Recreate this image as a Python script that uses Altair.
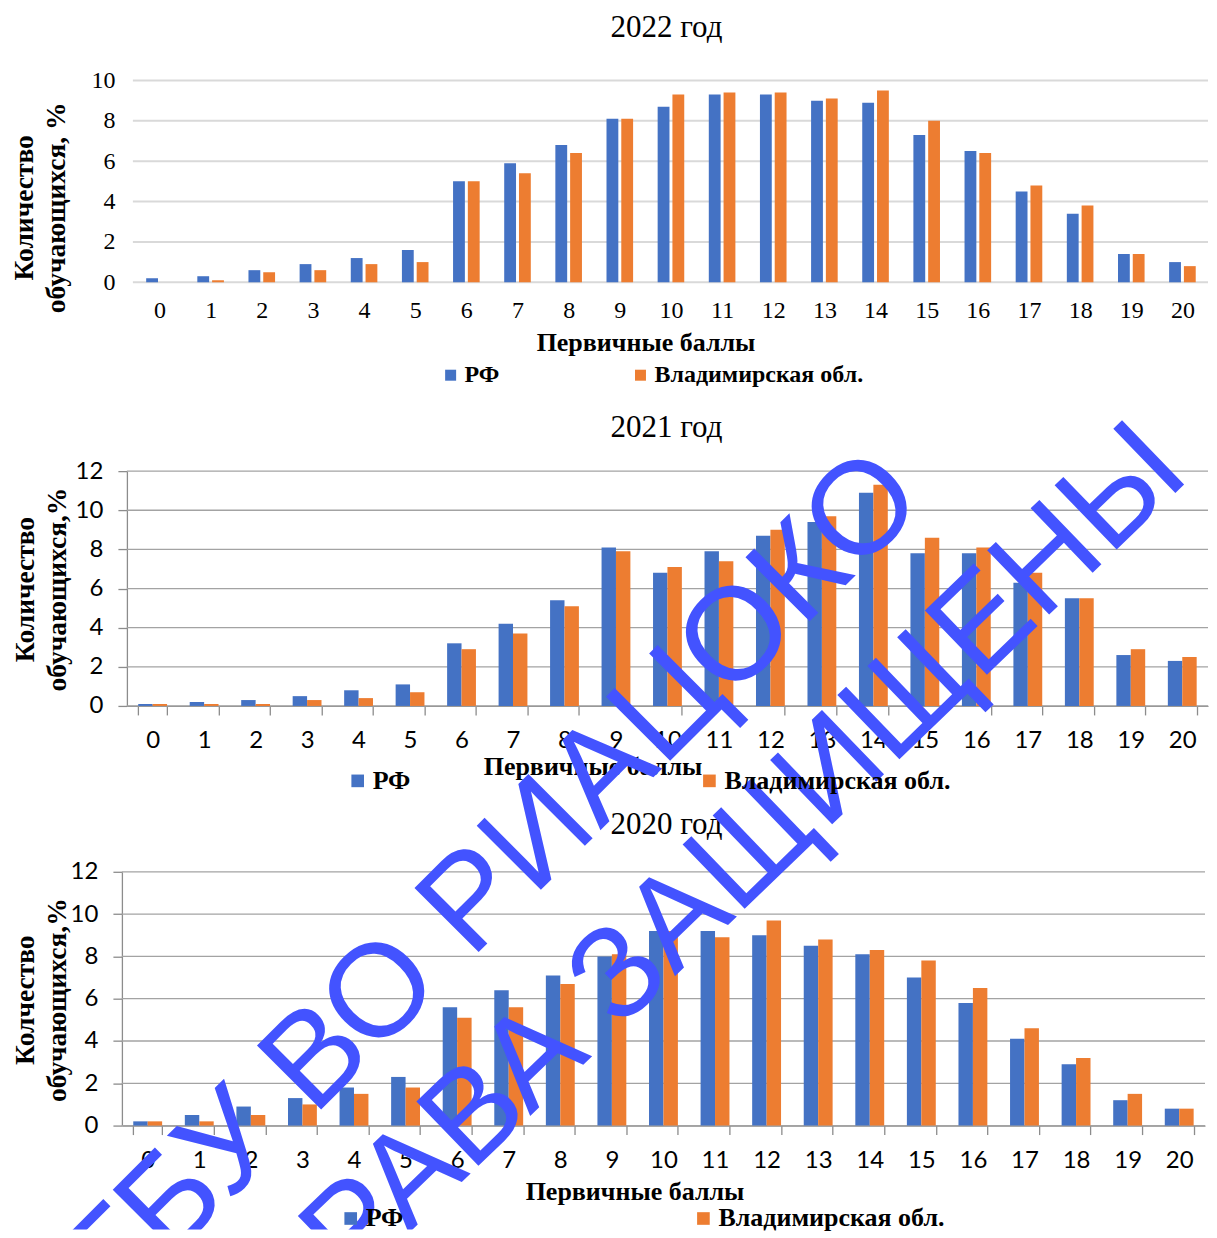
import altair as alt
import pandas as pd

scores = list(range(21))
series = ["РФ", "Владимирская обл."]
colors = ["#4472C4", "#ED7D31"]

rf_2022 = [0.2, 0.3, 0.6, 0.9, 1.2, 1.6, 5.0, 5.9, 6.8, 8.1, 8.7, 9.3, 9.3, 9.0, 8.9, 7.3, 6.5, 4.5, 3.4, 1.4, 1.0]
vl_2022 = [0.0, 0.1, 0.5, 0.6, 0.9, 1.0, 5.0, 5.4, 6.4, 8.1, 9.3, 9.4, 9.4, 9.1, 9.5, 8.0, 6.4, 4.8, 3.8, 1.4, 0.8]
rf_2021 = [0.1, 0.2, 0.3, 0.5, 0.8, 1.1, 3.2, 4.2, 5.4, 8.1, 6.8, 7.9, 8.7, 9.4, 10.9, 7.8, 7.8, 6.3, 5.5, 2.6, 2.3]
vl_2021 = [0.1, 0.1, 0.1, 0.3, 0.4, 0.7, 2.9, 3.7, 5.1, 7.9, 7.1, 7.4, 9.0, 9.7, 11.3, 8.6, 8.1, 6.8, 5.5, 2.9, 2.5]
rf_2020 = [0.2, 0.5, 0.9, 1.3, 1.8, 2.3, 5.6, 6.4, 7.1, 8.0, 9.2, 9.2, 9.0, 8.5, 8.1, 7.0, 5.8, 4.1, 2.9, 1.2, 0.8]
vl_2020 = [0.2, 0.2, 0.5, 1.0, 1.5, 1.8, 5.1, 5.6, 6.7, 8.1, 9.2, 8.9, 9.7, 8.8, 8.3, 7.8, 6.5, 4.6, 3.2, 1.5, 0.8]

years = ["2022 год", "2021 год", "2020 год"]
y_titles = [["Количество", "обучающихся, %"],
            ["Количество", "обучающихся,%"],
            ["Колчество", "обучающихся,%"]]
x_title = "Первичные баллы"
watermark = ["ФГБУ ВО РИАЦОКО", "ПРАВА ЗАЩИЩЕНЫ"]
y_ticks_2022 = [0, 2, 4, 6, 8, 10]
y_ticks_2021 = [0, 2, 4, 6, 8, 10, 12]
y_ticks_2020 = [0, 2, 4, 6, 8, 10, 12]

SERIF = "Liberation Serif"
SANS = "Lato"
W, H = 1201, 1222


def frame(rf, vl):
    return pd.DataFrame({
        "score": scores + scores,
        "series": [series[0]] * len(scores) + [series[1]] * len(scores),
        "value": rf + vl,
    })


def panel(rf, vl, ticks, idx, cfg):
    modern = cfg["modern"]
    lfont = SANS if modern else SERIF
    yscale = alt.Scale(domain=[0, ticks[-1]], range=cfg["yrange"], nice=False, zero=True)
    y_axis = alt.Axis(
        orient="left", offset=cfg["yoff"], values=ticks,
        labelFont=lfont, labelFontSize=24, labelColor="#000", labelPadding=cfg["ylabpad"],
        ticks=modern, tickSize=9 if modern else 0, tickColor="#8c8c8c", tickWidth=1.3,
        domain=modern, domainColor="#8c8c8c", domainWidth=1.3, grid=False,
        title=y_titles[idx], titleFont=SERIF, titleFontSize=27.5, titleFontWeight="bold",
        titleColor="#000", titleLineHeight=32, titleAngle=270,
        titleX=cfg["ytitle"][0], titleY=cfg["ytitle"][1],
        titleAlign="center", titleBaseline="middle",
    )
    x_axis = alt.Axis(
        orient="bottom", offset=cfg["xoff"], labelAngle=0,
        labelFont=lfont, labelFontSize=24, labelColor="#000", labelPadding=cfg["xlabpad"],
        ticks=modern, tickSize=9 if modern else 0, tickColor="#8c8c8c", tickWidth=1.3,
        tickBand="extent", domain=modern, domainColor="#8c8c8c", domainWidth=1.3,
        grid=False,
        title=x_title, titleFont=SERIF, titleFontSize=26, titleFontWeight="bold",
        titleColor="#000", titleX=cfg["xtitle"][0], titleY=cfg["xtitle"][1],
        titleAlign="center", titleBaseline="middle", titleAnchor="start",
    )
    grid = alt.Chart(pd.DataFrame({"value": ticks})).mark_rule(
        color="#a3a3a3" if modern else "#d9d9d9", strokeWidth=1.3 if modern else 2
    ).encode(
        y=alt.Y("value:Q", scale=yscale, axis=y_axis),
        x=alt.value(cfg["grid"][0]), x2=alt.value(cfg["grid"][1]),
    )
    bars = alt.Chart(frame(rf, vl)).mark_bar().encode(
        x=alt.X("score:O", axis=x_axis,
                scale=alt.Scale(range=cfg["xrange"],
                                paddingInner=0.44 if modern else 0.48,
                                paddingOuter=0.22 if modern else 0.24)),
        xOffset=alt.XOffset("series:N", sort=series,
                            scale=alt.Scale(paddingInner=0.0 if modern else 0.2,
                                            paddingOuter=0)),
        y=alt.Y("value:Q", scale=yscale, axis=y_axis),
        color=alt.Color(
            "series:N", sort=series,
            scale=alt.Scale(domain=series, range=colors),
            legend=alt.Legend(
                orient="none", legendX=cfg["legend"][0], legendY=cfg["legend"][1],
                direction="horizontal", title=None, symbolType="square",
                symbolSize=cfg["legend"][3], symbolStrokeWidth=0,
                labelFont=SERIF, labelFontSize=cfg["legend"][4], labelFontWeight="bold",
                labelColor="#000", labelOffset=2, labelLimit=600,
                columnPadding=cfg["legend"][2], padding=0,
            ),
        ),
    )
    title = alt.Chart(pd.DataFrame({"t": [years[idx]]})).mark_text(
        font=SERIF, fontSize=31, color="#000", align="center", baseline="middle"
    ).encode(text="t:N", x=alt.value(cfg["title"][0]), y=alt.value(cfg["title"][1]))
    return alt.layer(grid, bars, title)


cfg1 = dict(modern=False, yrange=[274, 72], yoff=-125, ylabpad=18, ytitle=(-108, 199),
            xrange=[126, 1201], xoff=-948, xlabpad=16, xtitle=(638, 60),
            grid=(125, 1201), legend=(431, 355, 129, 121, 24), title=(659, 20))
cfg2 = dict(modern=True, yrange=[698, 463], yoff=-119, ylabpad=15, ytitle=(-101, 581),
            xrange=[119, 1201], xoff=-524, xlabpad=14, xtitle=(585, 61),
            grid=(119, 1201), legend=(337, 760, 286, 160, 26), title=(659, 420))
cfg3 = dict(modern=True, yrange=[1118, 864], yoff=-114, ylabpad=15, ytitle=(-96, 992),
            xrange=[114, 1198], xoff=-104, xlabpad=14, xtitle=(627, 66),
            grid=(114, 1198), legend=(330, 1198, 287, 160, 26), title=(659, 817))

p1 = panel(rf_2022, vl_2022, y_ticks_2022, 0, cfg1)
p2 = panel(rf_2021, vl_2021, y_ticks_2021, 1, cfg2)
p3 = panel(rf_2020, vl_2020, y_ticks_2020, 2, cfg3)

wm_data = pd.DataFrame({"t": watermark})
wm1 = alt.Chart(wm_data).transform_filter(alt.datum.t == watermark[0]).mark_text(
    font="Liberation Sans", fontSize=132, color="#4353FF", angle=315,
    align="center", baseline="middle", clip=True,
).encode(text="t:N", x=alt.value(452), y=alt.value(907))
wm2 = alt.Chart(wm_data).transform_filter(alt.datum.t == watermark[1]).mark_text(
    font="Liberation Sans", fontSize=130, color="#4353FF", angle=316,
    align="center", baseline="middle", clip=True,
).encode(text="t:N", x=alt.value(704), y=alt.value(879))

chart = alt.layer(p1, p2, p3, wm1, wm2).resolve_scale(
    x="independent", y="independent", color="independent", xOffset="independent"
).resolve_axis(x="independent", y="independent").resolve_legend(
    color="independent"
).properties(
    width=W, height=H, padding=0, background="white",
).configure_view(strokeWidth=0)

chart.save("out.html", embed_options={"renderer": "svg", "actions": False})
